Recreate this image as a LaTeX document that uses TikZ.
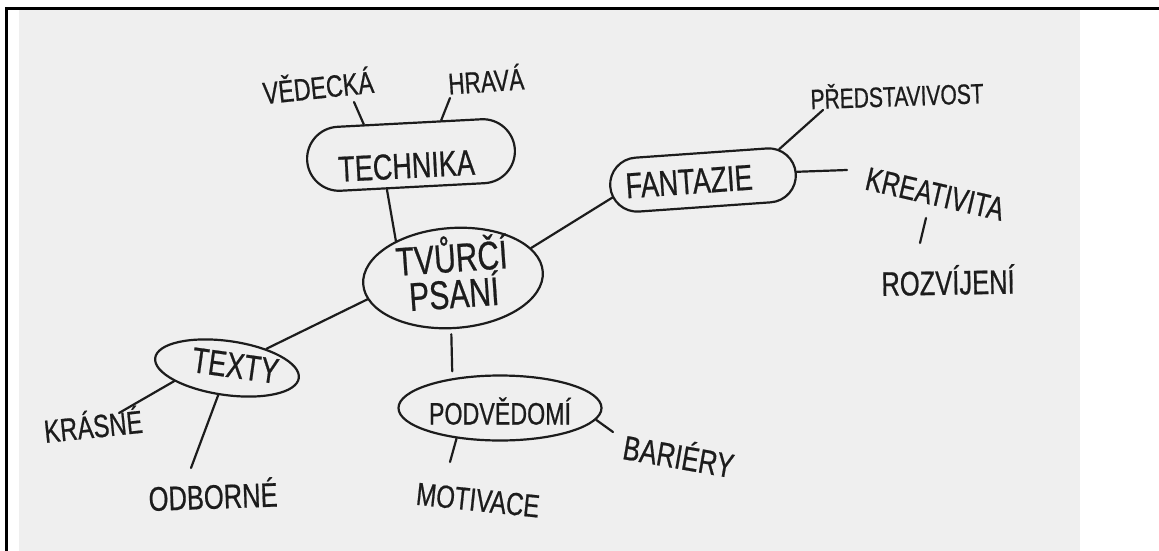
\documentclass[tikz,border=0pt]{standalone}
\usepackage{fontspec}
\usetikzlibrary{shapes.geometric,shapes.misc}
% narrow sans standing in for hand-lettered capitals
\newfontfamily\hand[FakeStretch=0.75,FakeBold=0.6]{Liberation Sans}
\newcommand\handsize[1]{\hand\fontsize{#1pt}{#1pt}\selectfont}
\definecolor{inkc}{HTML}{1C1C1C}
\definecolor{paper}{HTML}{EFEFEF}

\begin{document}
\begin{tikzpicture}[x=1pt,y=-1pt,
  ink/.style={draw=inkc, line width=2.2pt},
  blob/.style={ink, ellipse, inner sep=0pt, text=inkc},
  pill/.style={ink, rounded rectangle, inner sep=0pt, text=inkc},
  word/.style={inner sep=1pt, text=inkc, text depth=0pt},
  link/.style={draw=inkc, line width=2.2pt, line cap=round}]
\useasboundingbox (0,0) rectangle (1159,551);

% sheet of paper and the frame round it
\fill[paper] (19,10) rectangle (1080,551);
\draw[line width=2.8pt] (5,8.7) -- (1159,8.7);
\draw[line width=2.6pt] (6.2,7.4) -- (6.2,551);

% central topic and its branches
\node[blob, minimum width=180pt, minimum height=100pt, rotate=4, align=center,
      text height=60pt, text depth=-14.6pt,
      font={\hand\fontsize{40pt}{36pt}\selectfont}] (tvurci) at (453,278) {TVŮRČÍ\\PSANÍ};
\node[pill, minimum width=208pt, minimum height=64pt, rotate=3,
      text height=46pt, text depth=0pt, font={\handsize{36}}] (technika) at (411,155) {\hspace*{-10pt}TECHNIKA};
\node[pill, minimum width=186pt, minimum height=54pt, rotate=4,
      text height=26pt, text depth=0pt, font={\handsize{36}}] (fantazie) at (703,180) {\hspace*{-28pt}FANTAZIE};
\node[blob, minimum width=145pt, minimum height=54pt, rotate=-8,
      text height=17.8pt, text depth=0pt, font={\handsize{36}}] (texty) at (227,368) {TEXTY\hspace*{-16pt}};
\node[blob, minimum width=203pt, minimum height=65pt,
      text height=33pt, text depth=0pt, font={\handsize{31}}] (podvedomi) at (500,408) {PODVĚDOMÍ};

% leaf words
\node[word, font={\handsize{31}}, rotate=6]  (vedecka)       at (318,85)  {VĚDECKÁ};
\node[word, font={\handsize{30}}, rotate=4]  (hrava)         at (486,79)  {HRAVÁ};
\node[word, font={\handsize{28}}, rotate=2]  (predstavivost) at (897,94)  {PŘEDSTAVIVOST};
\node[word, font={\handsize{33}}, rotate=-13] (kreativita)   at (935,194) {KREATIVITA};
\node[word, font={\handsize{34}}, rotate=1]  (rozvijeni)     at (948,280) {ROZVÍJENÍ};
\node[word, font={\handsize{32}}, rotate=6]  (krasne)        at (93,424)  {KRÁSNÉ};
\node[word, font={\handsize{34}}, rotate=2]  (odborne)       at (213,494) {ODBORNÉ};
\node[word, font={\handsize{34}}, rotate=-10] (bariery)      at (679,454) {BARIÉRY};
\node[word, font={\handsize{32}}, rotate=-6] (motivace)      at (478,500) {MOTIVACE};

% loose ends of the strokes next to the leaf words
\coordinate (vedecka-end)  at (354,102);
\coordinate (hrava-end)    at (450,98);
\coordinate (predst-end)   at (823,110);
\coordinate (kreat-end)    at (847,170);
\coordinate (kreat-low)    at (926,218);
\coordinate (rozv-top)     at (920,243);
\coordinate (krasne-end)   at (119,413);
\coordinate (odborne-end)  at (191,468);
\coordinate (bariery-end)  at (613,432);
\coordinate (motivace-end) at (450,462);

% connectors
\draw[link] (technika.144) -- (vedecka-end);
\draw[link] (technika.46) -- (hrava-end);
\draw[link] (technika.232) -- (tvurci.143);
\draw[link] (tvurci.17) -- (fantazie.187);
\draw[link] (fantazie.18) -- (predst-end);
\draw[link] (fantazie.1) -- (kreat-end);
\draw[link] (kreat-low) -- (rozv-top);
\draw[link] (tvurci.190) -- (texty.34);
\draw[link] (texty.202) -- (krasne-end);
\draw[link] (texty.260) -- (odborne-end);
\draw[link, shorten <=5pt, shorten >=7pt] (tvurci.264) -- (podvedomi.148);
\draw[link] (podvedomi.353) -- (bariery-end);
\draw[link] (podvedomi.215.5) -- (motivace-end);
\end{tikzpicture}
\end{document}
